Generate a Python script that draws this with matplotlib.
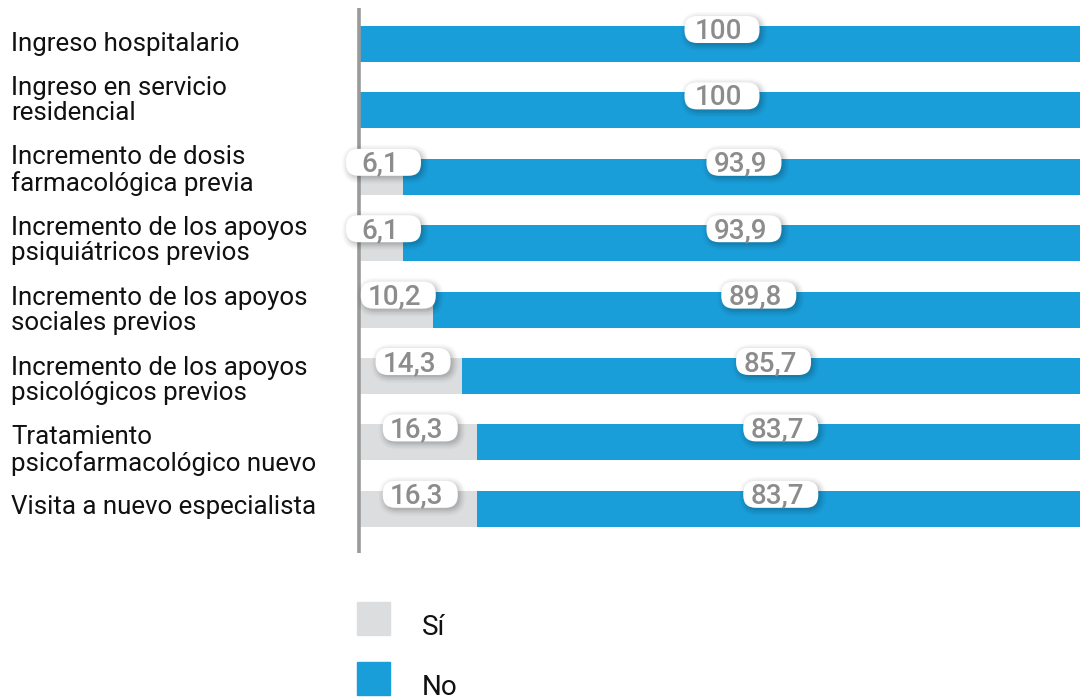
import matplotlib.pyplot as plt
from matplotlib.patches import Rectangle, FancyBboxPatch
from matplotlib.transforms import IdentityTransform

categorias = [
    "Ingreso hospitalario",
    "Ingreso en servicio\nresidencial",
    "Incremento de dosis\nfarmacológica previa",
    "Incremento de los apoyos\npsiquiátricos previos",
    "Incremento de los apoyos\nsociales previos",
    "Incremento de los apoyos\npsicológicos previos",
    "Tratamiento\npsicofarmacológico nuevo",
    "Visita a nuevo especialista",
]
si = [0, 0, 6.1, 6.1, 10.2, 14.3, 16.3, 16.3]
no = [100, 100, 93.9, 93.9, 89.8, 85.7, 83.7, 83.7]
series = ["Sí", "No"]

c_si = "#dcdddf"
c_no = "#1a9ed9"
plt.rcParams["font.family"] = ["Roboto", "DejaVu Sans"]

W, H = 1080, 700
fig = plt.figure(figsize=(W / 100, H / 100), dpi=100)
ax = fig.add_axes([359 / W, 1 - 553 / H, 721 / W, 545 / H])

y = list(range(len(categorias)))
h = 0.542
ax.barh(y, si, height=h, color=c_si)
ax.barh(y, no, left=si, height=h, color=c_no)
ax.set_xlim(0, 100)
ax.set_ylim(7.666, -0.542)
ax.axis("off")

# eje vertical
ax.plot([0, 0], [-0.542, 7.666], color="#9a9a9a", lw=2.6, clip_on=False,
        solid_capstyle="butt")


def fmt(v):
    if v == 100:
        return "100"
    return f"{v:.1f}".replace(".", ",")


def pastilla(cx, cy, w, hgt, **kw):
    r = hgt / 2 - 1
    return FancyBboxPatch((cx - w / 2 + r, cy - hgt / 2 + r), w - 2 * r, hgt - 2 * r,
                          boxstyle=f"round,pad={r}", ec="none",
                          transform=IdentityTransform(), **kw)


# etiquetas tipo "pastilla" con sombra
pw, ph = 75, 27
for i in y:
    segs = []
    if si[i] > 0:
        segs.append((si[i] / 2, si[i]))
    segs.append((si[i] + no[i] / 2, no[i]))
    for xc, v in segs:
        yc = i - h / 2 + 0.053
        px, py = ax.transData.transform((xc, yc))
        cx = px + 2.5
        for e, a in [(6, 0.02), (4.5, 0.03), (3, 0.04), (1.5, 0.05), (0, 0.06)]:
            fig.add_artist(pastilla(cx + 2, py - 2, pw + 2 * e, ph + 2 * e,
                                    fc="black", alpha=a))
        fig.add_artist(pastilla(cx, py, pw, ph, fc="white"))
        fig.text((px - 1) / W, (py - 9.5) / H, fmt(v), ha="center", va="baseline",
                 fontsize=20, color="#8c8c8c", fontweight="medium")

# etiquetas de categoria (apiladas)
line_h, gap = 27, 16
top = 44 - line_h / 2
for lab in categorias:
    n = lab.count("\n") + 1
    yc = top + n * line_h / 2
    fig.text(11 / W, 1 - yc / H, lab, ha="left", va="center", fontsize=18.6,
             color="#111111", linespacing=1.08)
    top += n * line_h + gap

# leyenda
cols = [c_si, c_no]
for j, (s, c) in enumerate(zip(series, cols)):
    sq_top = 602 + 60 * j
    fig.add_artist(Rectangle((357 / W, 1 - (sq_top + 33) / H), 33 / W, 33 / H,
                             transform=fig.transFigure, color=c))
    fig.text(422 / W, 1 - (sq_top + 33) / H, s, ha="left", va="baseline", fontsize=20,
             color="#111111")

fig.savefig("out.png", dpi=100)
